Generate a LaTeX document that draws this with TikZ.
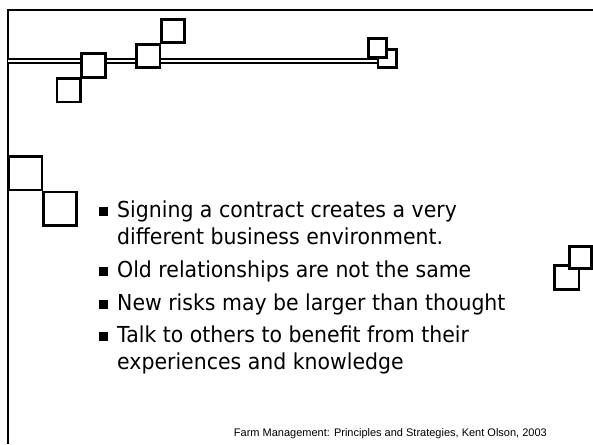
\documentclass[tikz,border=0pt]{standalone}
\usepackage{fontspec}
\newfontfamily\slidefont{DejaVu Sans}[FakeStretch=0.93]
\newfontfamily\notefont{Liberation Sans}
\usetikzlibrary{positioning}

\begin{document}
\begin{tikzpicture}[x=1pt,y=-1pt,
    box/.style={draw,fill=white,line width=2.6pt,inner sep=0,minimum size=#1},
    bullet/.style={fill,inner sep=0,minimum size=9pt},
    line/.style={anchor=base west,inner sep=0,font=\slidefont\fontsize{22}{26}\selectfont},
    note/.style={anchor=base east,inner sep=0,font=\notefont\fontsize{11}{13}\selectfont},
    frame/.style={line width=2pt},
    rail/.style={double,double distance=2.4pt,line width=1.8pt}]
    \useasboundingbox (0,0) rectangle (593,444);
    % frame and rail
    \draw[frame] (593,10) -- (8,10) -- (8,444);
    \coordinate (railstart) at (8,60.8);
    \node[box=18.5pt] at (387.3,58.5) (sqF) {};
    \draw[rail] (railstart) -- (railstart -| sqF.west);
    % squares on the rail
    \node[box=23.5pt] at (68.8,90.2) (sqA) {};
    \node[box=23.5pt] at (93.5,65.5) (sqB) {};
    \node[box=23.5pt] at (148.3,56) (sqC) {};
    \node[box=23.5pt] at (173,31) (sqD) {};
    \node[box=18.5pt] at (377.5,48) (sqE) {};
    % squares at the sides
    \node[box=33.5pt] at (25.3,173.3) (sqG) {};
    \node[box=33.5pt] at (60,208.7) (sqH) {};
    \node[box=24.5pt] at (566.7,277.5) (sqJ) {};
    \node[box=22.5pt] at (580.5,257.5) (sqI) {};
    % bullets
    \node[bullet] at (103.5,211) (b1) {};
    \node[bullet] at (103.5,271.5) (b2) {};
    \node[bullet] at (103.5,304) (b3) {};
    \node[bullet] at (103.5,336.5) (b4) {};
    \node[line] at (117,217) (t1) {Signing a contract creates a very};
    \node[line] at (117,244) (t1b) {different business environment.};
    \node[line] at (117,277.5) (t2) {Old relationships are not the same};
    \node[line] at (117,310) (t3) {New risks may be larger than thought};
    \node[line] at (117,342.5) (t4) {Talk to others to benefit from their};
    \node[line] at (117,369) (t4b) {experiences and knowledge};
    \node[note] at (547,436) (src) {Farm Management: Principles and Strategies, Kent Olson, 2003};
\end{tikzpicture}
\end{document}
